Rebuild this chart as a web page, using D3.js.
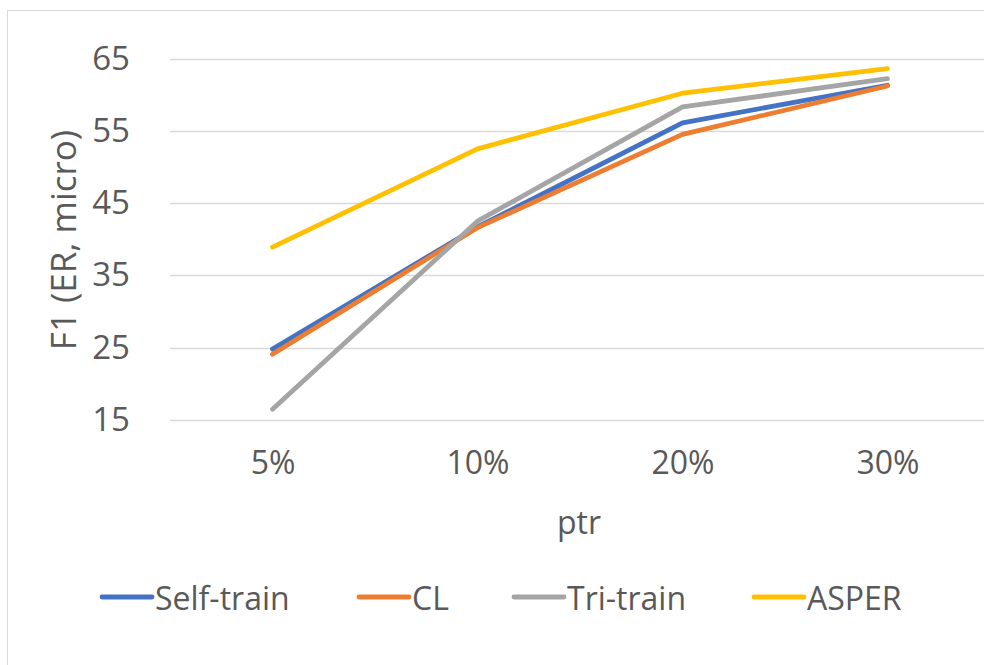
<!DOCTYPE html>
<html>
<head>
<meta charset="utf-8">
<script src="https://cdn.jsdelivr.net/npm/d3@7"></script>
<style>
  html, body { margin: 0; padding: 0; background: #fff; }
  svg { display: block; font-family: "Open Sans", "Noto Sans", sans-serif; }
</style>
</head>
<body>
<svg id="chart" width="984" height="665"></svg>
<script>
// Sampling ratios on the x axis
const categories = ["5%", "10%", "20%", "30%"];
// F1 scores per method
const selfTrain = [24.8, 41.7, 56.1, 61.3];
const cl        = [24.1, 41.6, 54.5, 61.2];
const triTrain  = [16.5, 42.5, 58.3, 62.2];
const asper     = [38.9, 52.5, 60.2, 63.6];
const yTicks = [15, 25, 35, 45, 55, 65];

const seriesNames = ["Self-train", "CL", "Tri-train", "ASPER"];
const seriesValues = [selfTrain, cl, triTrain, asper];
const colors = ["#4472C4", "#ED7D31", "#A5A5A5", "#FFC000"];

const textColor = "#595959";
const svg = d3.select("#chart");

// chart frame
svg.append("rect")
  .attr("x", 7.5).attr("y", 10.5)
  .attr("width", 1000).attr("height", 700)
  .attr("fill", "#fff")
  .attr("stroke", "#d9d9d9")
  .attr("stroke-width", 1);

const plotLeft = 170, plotRight = 990;
const x = d3.scalePoint().domain(categories).range([plotLeft, plotRight]).padding(0.5);
const y = d3.scaleLinear().domain([15, 65]).range([420, 58.5]);

// horizontal gridlines
svg.append("g").selectAll("line")
  .data(yTicks)
  .join("line")
  .attr("x1", plotLeft).attr("x2", plotRight)
  .attr("y1", d => Math.round(y(d)) + 0.5).attr("y2", d => Math.round(y(d)) + 0.5)
  .attr("stroke", "#d9d9d9")
  .attr("stroke-width", 1.5);

// y axis labels
const yAxis = d3.axisLeft(y).tickValues(yTicks).tickSize(0).tickPadding(0);
const yg = svg.append("g").attr("transform", "translate(130,0)").call(yAxis);
yg.select(".domain").remove();
yg.selectAll("text")
  .attr("fill", textColor)
  .attr("font-size", 33)
  .attr("font-family", "'Open Sans', sans-serif");

// x axis labels
const xAxis = d3.axisBottom(x).tickSize(0).tickPadding(0);
const xg = svg.append("g").attr("transform", "translate(0,451)").call(xAxis);
xg.select(".domain").remove();
xg.selectAll("text")
  .attr("fill", textColor)
  .attr("font-size", 32)
  .attr("font-family", "'Open Sans', sans-serif");

// axis titles
svg.append("text")
  .attr("transform", "translate(62,240) rotate(-90)")
  .attr("text-anchor", "middle")
  .attr("dominant-baseline", "central")
  .attr("fill", textColor)
  .attr("font-size", 35)
  .text("F1 (ER, micro)");

svg.append("text")
  .attr("x", (plotLeft + 984) / 2 + 2)
  .attr("y", 521)
  .attr("text-anchor", "middle")
  .attr("dominant-baseline", "central")
  .attr("fill", textColor)
  .attr("font-size", 32)
  .text("ptr");

// series lines
const line = d3.line()
  .x((d, i) => x(categories[i]))
  .y(d => y(d));

svg.append("g").selectAll("path")
  .data(seriesValues)
  .join("path")
  .attr("d", d => line(d))
  .attr("fill", "none")
  .attr("stroke", (d, i) => colors[i])
  .attr("stroke-width", 4.8)
  .attr("stroke-linecap", "round")
  .attr("stroke-linejoin", "round");

// legend
const legendX = [100, 357, 512, 752];
const legend = svg.append("g").selectAll("g")
  .data(seriesNames)
  .join("g")
  .attr("transform", (d, i) => `translate(${legendX[i]},597)`);
legend.append("line")
  .attr("x1", 2).attr("x2", 52)
  .attr("stroke", (d, i) => colors[i])
  .attr("stroke-width", 4.8)
  .attr("stroke-linecap", "round");
legend.append("text")
  .attr("x", 55)
  .attr("dominant-baseline", "central")
  .attr("fill", textColor)
  .attr("font-size", 32)
  .text(d => d);
</script>
</body>
</html>
